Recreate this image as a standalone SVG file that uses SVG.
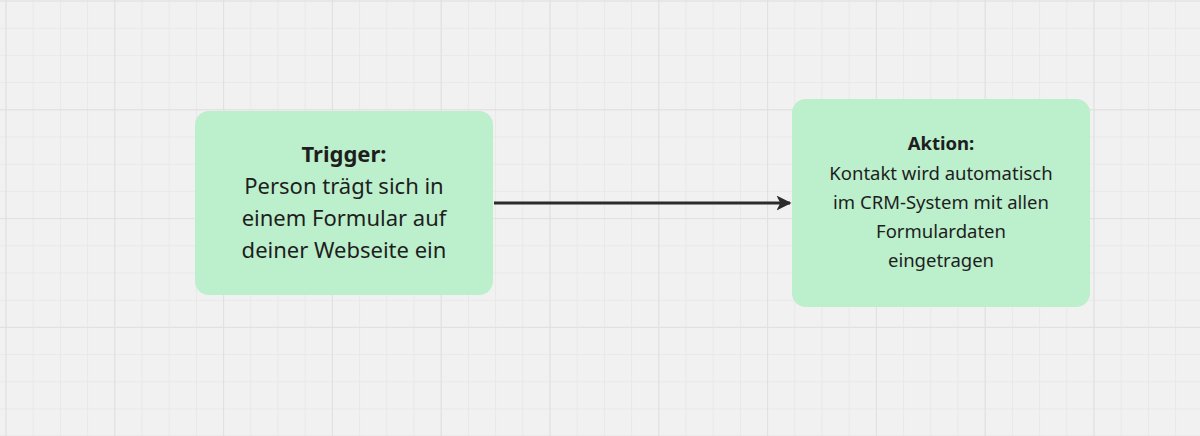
<svg xmlns="http://www.w3.org/2000/svg" width="1200" height="436" viewBox="0 0 1200 436">
<defs>
<pattern id="minor" x="5.5" y="0.5" width="27.2" height="27.2" patternUnits="userSpaceOnUse"><path d="M0 0V27.2M0 0H27.2" stroke="#e6e6e6" stroke-width="1.5" fill="none"/></pattern>
<pattern id="major" x="5.5" y="0.5" width="108.8" height="108.8" patternUnits="userSpaceOnUse"><path d="M0 0V108.8M0 0H108.8" stroke="#e0e0e0" stroke-width="2" fill="none"/></pattern>
<marker id="ah" viewBox="0 0 10 10" refX="9" refY="5" markerWidth="5" markerHeight="5" orient="auto" markerUnits="strokeWidth"><path d="M0 0L10 5L0 10L2.5 5Z" fill="#2b2b2b"/></marker>
<style>
.box{fill:#bcefcc}
text{font-family:"Noto Sans","Open Sans",sans-serif;fill:#1e1e1e;text-anchor:middle}
.t1{font-size:22px}.t2{font-size:18.5px}
.b{font-weight:bold}
</style>
</defs>
<rect width="1200" height="436" fill="#f1f1f1"/>
<rect width="1200" height="436" fill="url(#minor)"/>
<rect width="1200" height="436" fill="url(#major)"/>
<g id="connectors"><line x1="494" y1="203" x2="790" y2="203" stroke="#2b2b2b" stroke-width="3" marker-end="url(#ah)"/></g>
<g id="trigger"><rect class="box" x="195" y="111" width="298" height="184" rx="14"/>
<text class="t1"><tspan class="b" x="344" y="162">Trigger:</tspan><tspan x="344" y="194">Person trägt sich in</tspan><tspan x="344" y="226">einem Formular auf</tspan><tspan x="344" y="258">deiner Webseite ein</tspan></text></g>
<g id="aktion"><rect class="box" x="792" y="99" width="298" height="208" rx="14"/>
<text class="t2"><tspan class="b" x="941" y="150">Aktion:</tspan><tspan x="941" y="180">Kontakt wird automatisch</tspan><tspan x="941" y="209">im CRM-System mit allen</tspan><tspan x="941" y="238">Formulardaten</tspan><tspan x="941" y="267">eingetragen</tspan></text></g>
</svg>
